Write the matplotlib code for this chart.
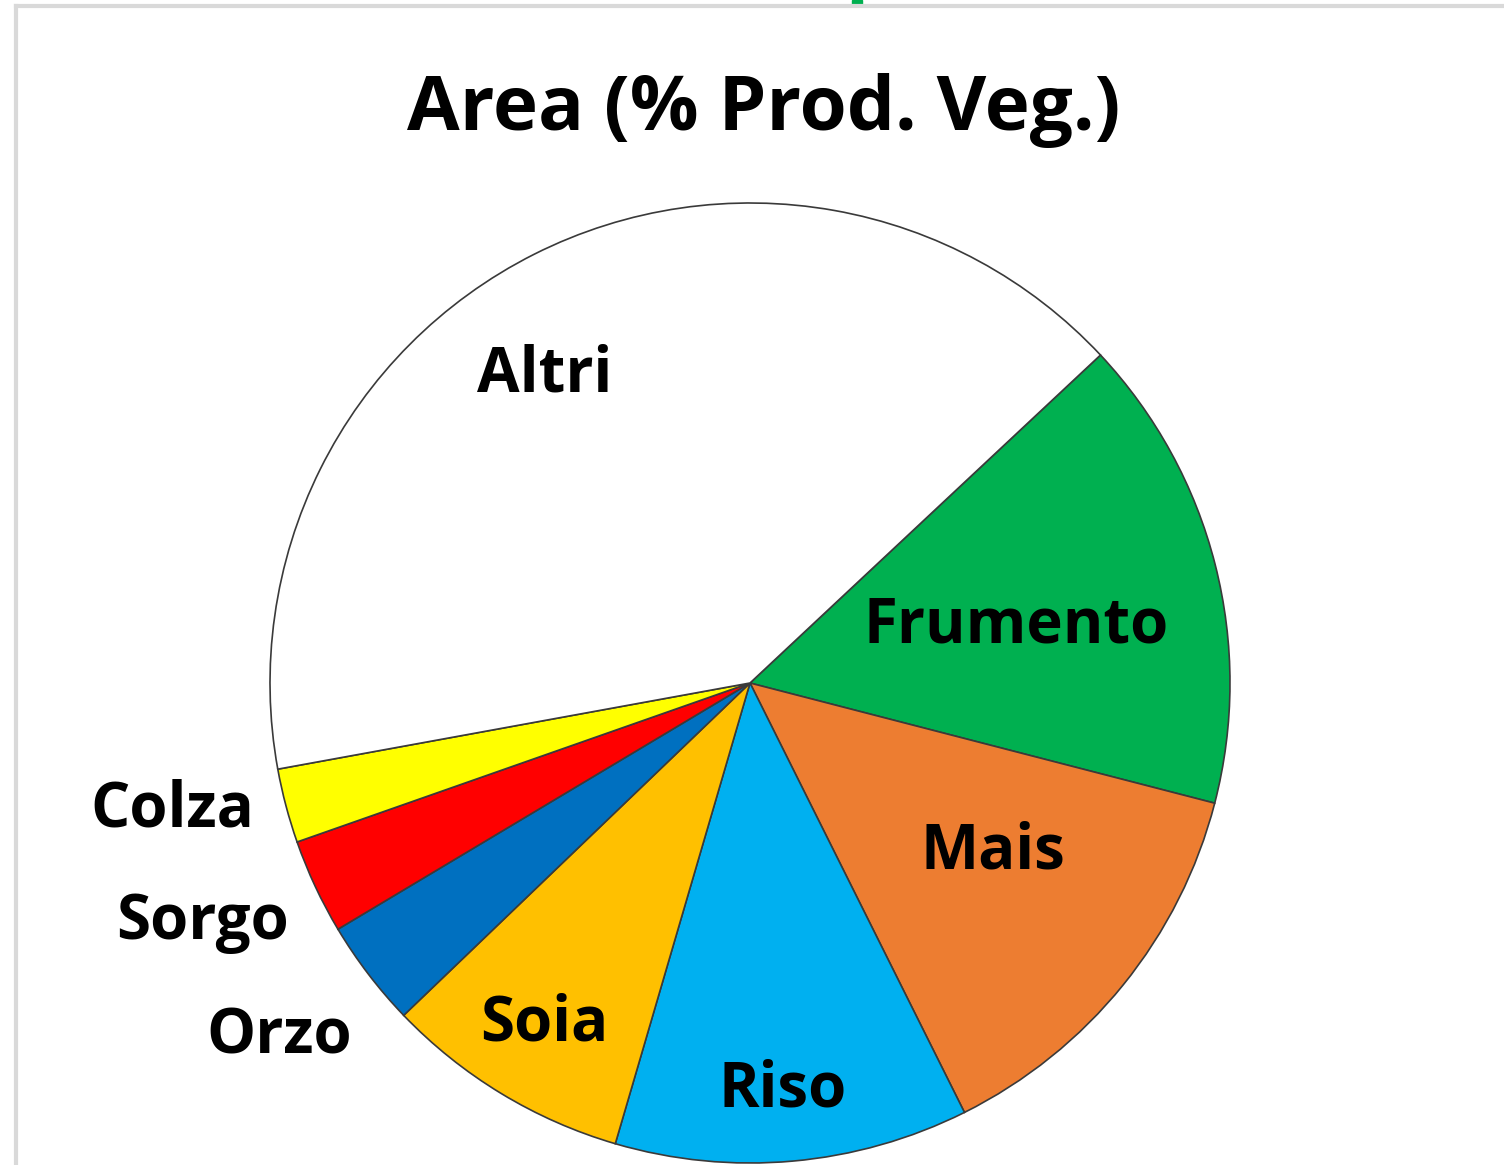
import numpy as np
import matplotlib
matplotlib.use("Agg")
from matplotlib import pyplot as plt
from matplotlib.lines import Line2D
from matplotlib.patches import Rectangle

# Data (share of area, %)
crops = ["Frumento", "Mais", "Riso", "Soia", "Orzo", "Sorgo", "Colza", "Altri"]
shares = [16.0, 13.6, 11.9, 8.3, 3.6, 3.2, 2.5, 40.9]
colors = ["#00B050", "#ED7D31", "#00B0F0", "#FFC000", "#0070C0", "#FF0000", "#FFFF00", "#FFFFFF"]

# label placement: radius factor and angular nudge (degrees) relative to wedge middle
label_r = [0.57, 0.61, 0.84, 0.82, 1.22, 1.24, 1.23, 0.78]
label_nudge = [-1, 5, -0.5, -0.3, -0.8, -2, -3, 6.5]

plt.rcParams["font.family"] = ["Open Sans", "DejaVu Sans"]

W, H = 1504, 1165
fig = plt.figure(figsize=(W / 100, H / 100), dpi=100)

# pie centre (750, 683) px, radius 480 px
cx, cy, R = 750, 683, 480
ax = fig.add_axes([(cx - R) / W, (H - cy - R) / H, 2 * R / W, 2 * R / H])

wedges, _ = ax.pie(
    shares,
    colors=colors,
    startangle=43.1,
    counterclock=False,
    wedgeprops=dict(edgecolor="#3a3a3a", linewidth=1.2),
)
ax.set_xlim(-1, 1)
ax.set_ylim(-1, 1)
ax.axis("off")

for w, name, r, nd in zip(wedges, crops, label_r, label_nudge):
    mid = np.deg2rad((w.theta1 + w.theta2) / 2 + nd)
    ax.annotate(name, (r * np.cos(mid), r * np.sin(mid)), xytext=(0, -4),
                textcoords="offset points", ha="center", va="center",
                fontsize=44.5, fontweight="bold", color="black",
                annotation_clip=False)

fig.text(764 / W, 1 - 110 / H, "Area (% Prod. Veg.)", ha="center", va="center",
         fontsize=55, fontweight="bold", color="black")

# light grey chart frame (only top and left edges visible)
fig.add_artist(Line2D([16 / W, 16 / W], [0, 1 - 6 / H], color="#d9d9d9", linewidth=3))
fig.add_artist(Line2D([16 / W, 1], [1 - 6 / H, 1 - 6 / H], color="#d9d9d9", linewidth=3))
# small green handle at the top
fig.add_artist(Rectangle((852 / W, 1 - 6 / H), 10 / W, 6 / H, color="#00B050"))

plt.savefig("out.png", dpi=100)
